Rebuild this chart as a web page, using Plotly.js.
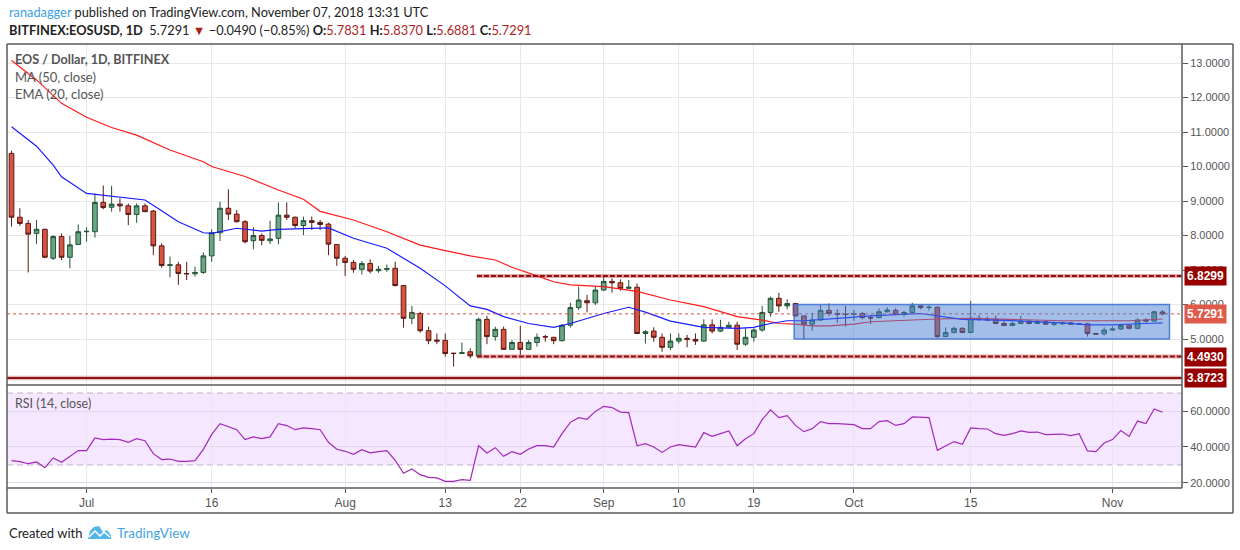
<!DOCTYPE html>
<html>
<head>
<meta charset="utf-8">
<script src="https://cdn.plot.ly/plotly-3.0.1.min.js"></script>
<style>
html,body{margin:0;padding:0;background:#fff;}
#chart{width:1240px;height:550px;}
</style>
</head>
<body>
<div id="chart"></div>
<script>
// ---------- DATA ----------
const dates = [
'2018-06-22','2018-06-23','2018-06-24','2018-06-25','2018-06-26','2018-06-27','2018-06-28','2018-06-29','2018-06-30',
'2018-07-01','2018-07-02','2018-07-03','2018-07-04','2018-07-05','2018-07-06','2018-07-07','2018-07-08','2018-07-09','2018-07-10',
'2018-07-11','2018-07-12','2018-07-13','2018-07-14','2018-07-15','2018-07-16','2018-07-17','2018-07-18','2018-07-19','2018-07-20',
'2018-07-21','2018-07-22','2018-07-23','2018-07-24','2018-07-25','2018-07-26','2018-07-27','2018-07-28','2018-07-29','2018-07-30','2018-07-31',
'2018-08-01','2018-08-02','2018-08-03','2018-08-04','2018-08-05','2018-08-06','2018-08-07','2018-08-08','2018-08-09','2018-08-10',
'2018-08-11','2018-08-12','2018-08-13','2018-08-14','2018-08-15','2018-08-16','2018-08-17','2018-08-18','2018-08-19','2018-08-20',
'2018-08-21','2018-08-22','2018-08-23','2018-08-24','2018-08-25','2018-08-26','2018-08-27','2018-08-28','2018-08-29','2018-08-30','2018-08-31',
'2018-09-01','2018-09-02','2018-09-03','2018-09-04','2018-09-05','2018-09-06','2018-09-07','2018-09-08','2018-09-09','2018-09-10',
'2018-09-11','2018-09-12','2018-09-13','2018-09-14','2018-09-15','2018-09-16','2018-09-17','2018-09-18','2018-09-19','2018-09-20',
'2018-09-21','2018-09-22','2018-09-23','2018-09-24','2018-09-25','2018-09-26','2018-09-27','2018-09-28','2018-09-29','2018-09-30',
'2018-10-01','2018-10-02','2018-10-03','2018-10-04','2018-10-05','2018-10-06','2018-10-07','2018-10-08','2018-10-09','2018-10-10',
'2018-10-11','2018-10-12','2018-10-13','2018-10-14','2018-10-15','2018-10-16','2018-10-17','2018-10-18','2018-10-19','2018-10-20',
'2018-10-21','2018-10-22','2018-10-23','2018-10-24','2018-10-25','2018-10-26','2018-10-27','2018-10-28','2018-10-29','2018-10-30','2018-10-31',
'2018-11-01','2018-11-02','2018-11-03','2018-11-04','2018-11-05','2018-11-06','2018-11-07'
];

const opens = [
10.38,8.53,8.35,8.06,8.18,7.34,7.97,7.37,7.74,
8.11,8.11,8.96,8.82,8.91,8.86,8.61,8.86,8.71,7.70,
7.13,7.15,6.90,6.89,6.93,7.41,8.08,8.79,8.62,8.40,
7.85,8.00,7.85,7.92,8.59,8.53,8.29,8.43,8.38,8.33,7.74,
7.34,7.22,7.02,7.19,6.98,7.02,7.05,6.55,5.60,5.74,
5.24,4.97,4.96,4.59,4.58,4.63,4.51,5.57,5.07,5.28,
4.70,4.90,4.70,4.90,5.07,5.05,4.95,5.40,5.91,6.11,6.05,
6.42,6.67,6.63,6.47,6.50,5.16,5.23,5.05,4.76,4.94,
5.02,4.99,4.94,5.41,5.23,5.34,5.40,4.85,5.05,5.26,
5.77,6.18,5.96,6.03,5.67,5.43,5.55,5.83,5.74,5.72,
5.71,5.74,5.62,5.62,5.79,5.83,5.71,5.77,5.96,5.91,
5.92,5.07,5.19,5.31,5.19,5.60,5.58,5.57,5.45,5.39,
5.45,5.52,5.45,5.50,5.43,5.44,5.47,5.43,5.44,5.16,5.15,
5.26,5.29,5.39,5.31,5.55,5.52,5.7831
];
const highs = [
10.46,8.79,8.45,8.45,8.20,8.01,8.06,7.99,8.32,
8.24,9.22,9.45,9.44,9.08,8.93,8.93,8.93,8.74,7.77,
7.39,7.24,7.24,7.10,7.51,8.18,8.98,9.34,8.74,8.45,
8.24,8.06,8.43,8.96,8.96,8.55,8.55,8.55,8.45,8.37,7.74,
7.41,7.29,7.26,7.31,7.12,7.16,7.24,6.55,5.96,5.79,
5.36,5.16,5.16,4.60,4.90,4.73,5.62,5.67,5.36,5.36,
4.97,5.38,4.97,5.16,5.12,5.06,5.43,6.05,6.52,6.28,6.52,
6.83,6.76,6.73,6.71,6.61,5.26,5.34,5.16,5.16,5.16,
5.12,5.16,5.57,5.57,5.55,5.50,5.50,5.31,5.31,5.96,
6.23,6.34,6.15,6.05,5.67,5.76,5.99,6.03,5.86,5.96,
5.84,5.79,5.70,5.89,5.92,5.89,5.82,6.05,5.98,5.98,
5.94,5.34,5.36,5.34,6.10,5.70,5.65,5.68,5.53,5.50,
5.67,5.55,5.55,5.55,5.50,5.51,5.50,5.47,5.47,5.18,5.34,
5.36,5.43,5.43,5.60,5.60,5.82,5.837
];
const lows = [
8.26,8.28,6.93,7.75,7.34,7.29,7.29,7.05,7.74,
7.82,7.94,8.76,8.69,8.69,8.30,8.37,8.69,7.43,7.07,
6.79,6.57,6.71,6.81,6.89,7.24,7.84,8.45,8.38,7.77,
7.60,7.72,7.75,7.75,8.45,8.21,8.01,8.16,8.16,7.43,7.12,
6.83,6.92,6.87,6.90,6.92,6.95,6.52,5.33,5.43,5.18,
4.85,4.85,4.49,4.20,4.57,4.44,4.50,4.85,4.95,4.70,
4.69,4.54,4.69,4.78,4.92,4.85,4.93,5.33,5.84,5.77,5.99,
6.40,6.34,6.40,6.45,5.14,4.87,4.92,4.63,4.68,4.87,
4.76,4.83,4.92,5.16,5.20,5.31,4.68,4.80,4.92,5.21,
5.65,5.79,5.86,5.65,4.99,5.24,5.53,5.67,5.47,5.36,
5.53,5.57,5.43,5.60,5.76,5.69,5.65,5.74,5.86,5.82,
5.02,5.05,5.16,5.17,5.16,5.53,5.53,5.43,5.38,5.38,
5.43,5.43,5.43,5.41,5.38,5.41,5.41,5.41,5.07,5.12,5.10,
5.24,5.26,5.28,5.28,5.48,5.50,5.6881
];
const closes = [
8.53,8.35,8.04,8.18,7.37,7.97,7.37,7.73,8.11,
8.12,8.96,8.81,8.91,8.86,8.61,8.86,8.69,7.70,7.13,
7.15,6.90,6.89,6.93,7.41,8.08,8.79,8.62,8.40,7.82,
8.00,7.86,7.90,8.59,8.53,8.29,8.43,8.38,8.32,7.75,7.34,
7.22,7.02,7.19,6.97,7.02,7.04,6.55,5.60,5.77,5.24,
4.95,4.94,4.58,4.58,4.60,4.51,5.57,5.07,5.28,4.70,
4.90,4.70,4.90,5.05,5.06,4.95,5.40,5.91,6.13,6.05,6.42,
6.67,6.63,6.47,6.50,5.16,5.21,5.05,4.76,4.94,5.02,
4.99,4.94,5.41,5.23,5.34,5.40,4.85,5.05,5.26,5.77,
6.18,5.96,6.03,5.67,5.43,5.55,5.83,5.74,5.72,5.71,
5.74,5.62,5.61,5.79,5.84,5.71,5.77,5.96,5.91,5.92,
5.07,5.19,5.31,5.19,5.60,5.57,5.55,5.45,5.39,5.45,
5.52,5.45,5.50,5.43,5.44,5.47,5.43,5.44,5.16,5.14,5.26,
5.29,5.39,5.31,5.55,5.52,5.79,5.7291
];

// MA (50, close)
const maDates = ['2018-06-22','2018-06-25','2018-06-28','2018-07-01','2018-07-04','2018-07-07','2018-07-11','2018-07-15','2018-07-16','2018-07-20',
'2018-07-24','2018-07-27','2018-07-29','2018-08-02','2018-08-06','2018-08-10','2018-08-13','2018-08-16','2018-08-19','2018-08-21',
'2018-08-24','2018-08-26','2018-08-28','2018-09-01','2018-09-05','2018-09-09','2018-09-13','2018-09-17','2018-09-20','2018-09-22',
'2018-09-24','2018-09-26','2018-09-28','2018-10-01','2018-10-03','2018-10-07','2018-10-11','2018-10-15','2018-10-18','2018-10-26',
'2018-11-03','2018-11-07'];
const maValues = [13.07,12.51,11.83,11.43,11.13,10.91,10.48,10.14,10.00,9.71,
9.32,9.05,8.70,8.45,8.11,7.72,7.56,7.41,7.29,7.08,
6.83,6.66,6.57,6.52,6.38,6.13,5.94,5.65,5.55,5.45,
5.43,5.38,5.38,5.43,5.50,5.55,5.58,5.60,5.58,5.53,
5.53,5.58];

// EMA (20, close)
const emaDates = ['2018-06-22','2018-06-25','2018-06-27','2018-06-28','2018-07-01','2018-07-04','2018-07-08','2018-07-10','2018-07-12','2018-07-15',
'2018-07-16','2018-07-19','2018-07-22','2018-07-24','2018-07-27','2018-07-30','2018-08-02','2018-08-06','2018-08-10','2018-08-13',
'2018-08-16','2018-08-18','2018-08-20','2018-08-23','2018-08-26','2018-08-28','2018-09-01','2018-09-04','2018-09-06','2018-09-09',
'2018-09-13','2018-09-17','2018-09-19','2018-09-21','2018-09-23','2018-09-25','2018-09-29','2018-10-03','2018-10-09','2018-10-11',
'2018-10-14','2018-10-18','2018-10-22','2018-10-26','2018-10-29','2018-11-01','2018-11-05','2018-11-07'];
const emaValues = [11.15,10.59,10.04,9.70,9.22,9.14,9.03,8.72,8.40,8.08,
8.06,8.21,8.13,8.18,8.21,8.22,7.92,7.63,7.05,6.54,
5.96,5.86,5.65,5.45,5.34,5.45,5.74,5.92,5.78,5.52,
5.34,5.31,5.34,5.45,5.53,5.53,5.60,5.67,5.74,5.67,
5.57,5.55,5.50,5.47,5.41,5.41,5.45,5.47];

// RSI (14, close), one value per date
const rsiValues = [
32.4,31.9,30.7,31.7,28.5,33.9,31.5,34.8,38.0,38.0,
45.0,44.1,44.4,44.1,42.6,44.6,43.5,36.3,33.0,33.3,
32.0,32.0,32.4,38.7,47.0,53.0,51.1,49.6,44.1,45.6,
44.6,45.6,53.0,51.9,49.6,50.6,50.2,49.6,42.6,38.7,
37.6,35.9,38.5,36.7,37.4,38.0,32.6,25.4,27.8,24.6,
23.1,22.8,20.9,20.9,21.9,21.5,40.7,36.7,39.6,34.8,
37.4,35.9,38.9,40.7,40.7,40.0,47.4,53.7,56.3,55.4,
59.8,62.6,61.9,59.4,59.1,40.7,41.9,40.0,37.0,40.0,
41.3,40.7,40.0,48.0,45.9,47.4,48.9,40.7,44.6,47.4,
55.2,60.7,56.3,57.4,52.0,48.5,50.2,54.1,53.0,53.0,
52.6,52.4,50.2,50.2,54.1,54.6,52.0,53.0,56.7,56.3,
56.3,38.1,40.7,43.0,41.5,50.6,50.2,50.0,47.4,46.5,
47.4,48.9,48.1,48.3,46.9,46.9,47.2,46.3,47.4,37.8,
37.4,42.2,44.1,49.1,45.9,54.4,53.0,61.1,59.3
];

// Levels
const resistance = 6.8299;
const support = 4.4930;
const lowLevel = 3.8723;
const lastPrice = 5.7291;
const rangeBox = {start:'2018-09-23 20:00', end:'2018-11-07 20:00', low:5.0, high:6.0};
const levelStart = '2018-08-16 19:00';

// Tick labels
const priceTicks = [5,6,7,8,9,10,11,12,13];
const priceTickText = ['5.0000','6.0000','7.0000','8.0000','9.0000','10.0000','11.0000','12.0000','13.0000'];
const rsiTicks = [20,40,60];
const rsiTickText = ['20.0000','40.0000','60.0000'];
const dateTicks = ['2018-07-01','2018-07-16','2018-08-01','2018-08-13','2018-08-22','2018-09-01','2018-09-10','2018-09-19','2018-10-01','2018-10-15','2018-11-01'];
const dateTickText = ['Jul','16','Aug','13','22','Sep','10','19','Oct','15','Nov'];

// ---------- LAYOUT HELPERS ----------
const L = 7, R = 1182, T = 44, B = 488;
const W = R - L, H = B - T;
const px = x => (x - L) / W;
const py = y => (B - y) / H;
const xRange = ['2018-06-21 11:00', '2018-11-09 08:00'];

const traces = [
  {
    type:'candlestick', x:dates, open:opens, high:highs, low:lows, close:closes,
    xaxis:'x', yaxis:'y',
    increasing:{fillcolor:'#6ba583', line:{color:'#225437', width:1}},
    decreasing:{fillcolor:'#d75442', line:{color:'#5b1a13', width:1}},
    whiskerwidth:0, hoverinfo:'skip'
  },
  {type:'scatter', mode:'lines', x:maDates, y:maValues, xaxis:'x', yaxis:'y',
   line:{color:'#ff1a1a', width:1.2}, hoverinfo:'skip'},
  {type:'scatter', mode:'lines', x:emaDates, y:emaValues, xaxis:'x', yaxis:'y',
   line:{color:'#1a1aff', width:1.2}, hoverinfo:'skip'},
  {type:'scatter', mode:'lines', x:dates, y:rsiValues, xaxis:'x2', yaxis:'y2',
   line:{color:'#a12ab8', width:1.2}, hoverinfo:'skip'}
];

const axFont = {family:'Liberation Sans, Arial, sans-serif', size:11, color:'#555'};
const fr = '#5a5a5a';

const shapes = [
  // RSI band
  {type:'rect', xref:'paper', yref:'y2', x0:0, x1:1, y0:30, y1:70, fillcolor:'rgba(153,21,255,0.1)', line:{width:0}, layer:'below'},
  {type:'line', xref:'paper', yref:'y2', x0:0, x1:1, y0:70, y1:70, line:{color:'#bfb2c8', width:1, dash:'6px,4px'}, layer:'below'},
  {type:'line', xref:'paper', yref:'y2', x0:0, x1:1, y0:30, y1:30, line:{color:'#bfb2c8', width:1, dash:'6px,4px'}, layer:'below'},
  // last price dotted
  {type:'line', xref:'paper', yref:'y', x0:0, x1:1, y0:lastPrice, y1:lastPrice, line:{color:'#d75442', width:1, dash:'dot'}},
  // resistance / support dashed (two-tone)
  {type:'line', xref:'x', yref:'y', x0:levelStart, x1:xRange[1], y0:resistance, y1:resistance, line:{color:'rgba(190,60,60,0.45)', width:4}},
  {type:'line', xref:'x', yref:'y', x0:levelStart, x1:xRange[1], y0:resistance, y1:resistance, line:{color:'#8e0f0f', width:2, dash:'5px,2px'}},
  {type:'line', xref:'x', yref:'y', x0:levelStart, x1:xRange[1], y0:support, y1:support, line:{color:'rgba(190,60,60,0.45)', width:4}},
  {type:'line', xref:'x', yref:'y', x0:levelStart, x1:xRange[1], y0:support, y1:support, line:{color:'#8e0f0f', width:2, dash:'5px,2px'}},
  // low level solid
  {type:'line', xref:'paper', yref:'y', x0:0, x1:1, y0:lowLevel, y1:lowLevel, line:{color:'rgba(190,60,60,0.35)', width:4.5}},
  {type:'line', xref:'paper', yref:'y', x0:0, x1:1, y0:lowLevel, y1:lowLevel, line:{color:'#8e1515', width:2}},
  // range box
  {type:'rect', xref:'x', yref:'y', x0:rangeBox.start, x1:rangeBox.end, y0:rangeBox.low, y1:rangeBox.high,
   fillcolor:'rgba(71,127,211,0.5)', line:{color:'rgba(60,110,210,0.85)', width:1.5}, layer:'above'},
  // frames
  {type:'line', xref:'paper', yref:'paper', x0:0, x1:px(1233), y0:1, y1:1, line:{color:fr, width:1.5}},
  {type:'line', xref:'paper', yref:'paper', x0:px(1233), x1:px(1233), y0:1, y1:py(513), line:{color:fr, width:1.5}},
  {type:'line', xref:'paper', yref:'paper', x0:0, x1:px(1233), y0:py(513), y1:py(513), line:{color:fr, width:1.5}},
  {type:'line', xref:'paper', yref:'paper', x0:0, x1:0, y0:py(513), y1:1, line:{color:fr, width:1.5}},
  {type:'line', xref:'paper', yref:'paper', x0:0, x1:1, y0:py(385), y1:py(385), line:{color:fr, width:1.5}},
  {type:'line', xref:'paper', yref:'paper', x0:1, x1:1, y0:0, y1:1, line:{color:fr, width:1.5}},
  {type:'line', xref:'paper', yref:'paper', x0:0, x1:1, y0:0, y1:0, line:{color:fr, width:1.5}},
  // TradingView logo (footer)
  {type:'path', xref:'paper', yref:'paper', layer:'above',
   path:`M ${px(88)} ${py(539)} L ${px(111)} ${py(539)} L ${px(111)} ${py(535)} L ${px(107)} ${py(530)} L ${px(103)} ${py(532)} L ${px(99)} ${py(526)} L ${px(94)} ${py(527)} L ${px(90)} ${py(531)} Z`,
   fillcolor:'#55b6e6', line:{width:0}},
  {type:'path', xref:'paper', yref:'paper', layer:'above',
   path:`M ${px(89)} ${py(537)} L ${px(95)} ${py(531)} L ${px(100)} ${py(536)} L ${px(104)} ${py(532)} L ${px(110)} ${py(537)}`,
   line:{color:'#ffffff', width:1.5}}
];

function tagAnn(val, bg){
  return {xref:'paper', yref:'y', x:px(1184), y:val, xanchor:'left', yanchor:'middle', showarrow:false,
    text:'<b>'+val.toFixed(4)+'</b>', bgcolor:bg, borderpad:2,
    font:{family:'Liberation Sans, Arial, sans-serif', size:12, color:'#ffffff'}};
}

const hdrFont = {family:'Lato, Roboto, sans-serif', size:12.8, color:'#222'};
const annotations = [
  {xref:'paper', yref:'paper', x:0, y:py(12), xanchor:'left', yanchor:'middle', showarrow:false, font:hdrFont,
   text:'<span style="color:#3d9fe0">ranadagger</span> published on TradingView.com, November 07, 2018 13:31 UTC'},
  {xref:'paper', yref:'paper', x:0, y:py(30), xanchor:'left', yanchor:'middle', showarrow:false, font:hdrFont,
   text:'<b>BITFINEX:EOSUSD, 1D</b>  5.7291 <span style="color:#b01e1e">▼</span> −0.0490 (−0.85%) <b>O:</b><span style="color:#b01e1e">5.7831</span> <b>H:</b><span style="color:#b01e1e">5.8370</span> <b>L:</b><span style="color:#b01e1e">5.6881</span> <b>C:</b><span style="color:#b01e1e">5.7291</span>'},
  {xref:'paper', yref:'paper', x:px(13), y:py(60), xanchor:'left', yanchor:'middle', showarrow:false,
   font:{family:'Lato, Roboto, sans-serif', size:12.6, color:'#555'}, text:'<b>EOS / Dollar, 1D, BITFINEX</b>'},
  {xref:'paper', yref:'paper', x:px(13), y:py(77), xanchor:'left', yanchor:'middle', showarrow:false,
   font:{family:'Lato, Roboto, sans-serif', size:13, color:'#555'}, text:'MA (50, close)'},
  {xref:'paper', yref:'paper', x:px(13), y:py(94), xanchor:'left', yanchor:'middle', showarrow:false,
   font:{family:'Lato, Roboto, sans-serif', size:13, color:'#555'}, text:'EMA (20, close)'},
  {xref:'paper', yref:'paper', x:px(13), y:py(404), xanchor:'left', yanchor:'middle', showarrow:false,
   font:{family:'Lato, Roboto, sans-serif', size:12.5, color:'#555'}, text:'RSI (14, close)'},
  {xref:'paper', yref:'paper', x:0, y:py(533), xanchor:'left', yanchor:'middle', showarrow:false,
   font:{family:'Lato, Roboto, sans-serif', size:13, color:'#222'}, text:'Created with'},
  {xref:'paper', yref:'paper', x:px(115), y:py(533), xanchor:'left', yanchor:'middle', showarrow:false,
   font:{family:'Lato, Roboto, sans-serif', size:13.5, color:'#45a5de'}, text:'TradingView'},
  tagAnn(resistance, '#980000'),
  tagAnn(lastPrice, '#e05a4a'),
  tagAnn(support, '#980000'),
  tagAnn(lowLevel, '#980000')
];

const layout = {
  width:1240, height:550,
  margin:{l:L, r:1240-R, t:T, b:550-B, pad:0},
  paper_bgcolor:'#ffffff', plot_bgcolor:'#ffffff',
  showlegend:false, hovermode:false, dragmode:false,
  boxgap:0.2,
  xaxis:{type:'date', range:xRange, anchor:'y', tickvals:dateTicks, ticktext:dateTickText,
    showticklabels:false, ticks:'', showgrid:true, gridcolor:'#e8e8e8', gridwidth:1,
    zeroline:false, showline:false, rangeslider:{visible:false}, fixedrange:true},
  xaxis2:{type:'date', range:xRange, anchor:'y2', matches:'x', tickvals:dateTicks, ticktext:dateTickText,
    showticklabels:true, ticks:'outside', ticklen:4, tickcolor:'#555',
    tickfont:{family:'Liberation Sans, Arial, sans-serif', size:12, color:'#555'},
    showgrid:true, gridcolor:'#e8e8e8', zeroline:false, showline:false, fixedrange:true},
  yaxis:{domain:[py(384), 1], range:[3.696, 13.551], side:'right', anchor:'x',
    tickvals:priceTicks, ticktext:priceTickText, tickfont:axFont, ticks:'outside', ticklen:5, tickcolor:'#555',
    showgrid:true, gridcolor:'#e8e8e8', zeroline:false, showline:false, fixedrange:true},
  yaxis2:{domain:[0, py(386)], range:[17.2, 73.9], side:'right', anchor:'x2',
    tickvals:rsiTicks, ticktext:rsiTickText, tickfont:axFont, ticks:'outside', ticklen:5, tickcolor:'#555',
    showgrid:true, gridcolor:'#e2d8ea', zeroline:false, showline:false, fixedrange:true},
  shapes:shapes,
  annotations:annotations
};

Plotly.newPlot('chart', traces, layout, {displayModeBar:false, staticPlot:true});
</script>
</body>
</html>
